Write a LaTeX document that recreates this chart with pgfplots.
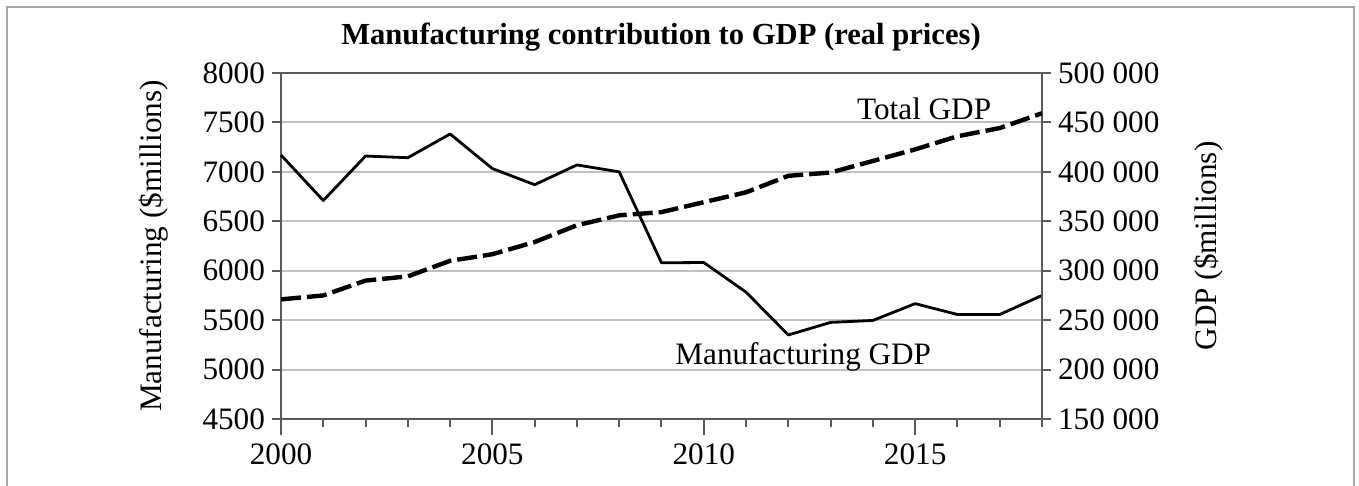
\documentclass[border=0pt]{standalone}
\usepackage{fontspec}
\setmainfont{Liberation Serif}
\usepackage{pgfplots}
\pgfplotsset{compat=1.18}
\definecolor{framegray}{HTML}{A6A6A6}
\definecolor{axisgray}{HTML}{5A5A5A}
\definecolor{gridgray}{HTML}{C0C0C0}
\pgfplotsset{
  common/.style={
    at={(140.5pt,33.5pt)}, anchor=south west,
    scale only axis, width=380.5pt, height=173pt,
    xmin=2000, xmax=2018,
    tick align=outside,
    every tick/.style={axisgray, line width=1pt},
    every minor tick/.style={axisgray, line width=1pt},
    axis line style={axisgray, line width=1pt, -},
    font=\fontsize{15.6}{18}\selectfont,
    /pgf/number format/assume math mode=true,
    scaled ticks=false,
    clip=false,
  }
}
\begin{document}
\begin{tikzpicture}
\useasboundingbox (0,0) rectangle (679.5pt,243pt);
\draw[line width=1pt, framegray] (3.5pt,-10pt) -- (3.5pt,239.5pt) -- (677pt,239.5pt) -- (677pt,-10pt);
\node[anchor=base, font=\fontsize{15.3}{18}\selectfont\bfseries] at (330.5pt,220.5pt) {Manufacturing contribution to GDP (real prices)};
% left axis with box and grid
\begin{axis}[
  common,
  ymin=4500, ymax=8000,
  xtick=\empty,
  ytick={4500,5000,...,8000},
  ytick pos=left,
  major tick length=4.5pt,
  ymajorgrids, grid style={gridgray, line width=1pt},
  /pgf/number format/1000 sep={},
  every axis y label/.style={at={(axis description cs:-0.16689,0.5)}, rotate=90, anchor=center},
  ylabel={Manufacturing (\$millions)},
]
\addplot[black, line width=1.4pt, line join=round] coordinates {
(2000,7170) (2001,6710) (2002,7160) (2003,7143) (2004,7383) (2005,7033)
(2006,6870) (2007,7070) (2008,7000) (2009,6080) (2010,6083) (2011,5783)
(2012,5350) (2013,5477) (2014,5497) (2015,5667) (2016,5557) (2017,5557) (2018,5750)
};
\node[anchor=base west, inner sep=0pt] at (axis cs:2009.32,5050) {Manufacturing GDP};
\node[anchor=base west, inner sep=0pt] at (axis cs:2013.62,7530) {Total GDP};
\end{axis}
% right axis
\begin{axis}[
  common,
  ymin=150000, ymax=500000,
  ytick={150000,200000,...,500000},
  axis x line=none, axis y line*=right,
  major tick length=4.5pt,
  /pgf/number format/fixed,
  /pgf/number format/1000 sep={\ },
  every axis y label/.style={at={(axis description cs:1.21945,0.5)}, rotate=90, anchor=center},
  ylabel={GDP (\$millions)},
]
\addplot[black, line width=2.2pt, dash pattern=on 10pt off 3pt] coordinates {
(2000,271000) (2001,275000) (2002,290000) (2003,294300) (2004,310000) (2005,316700)
(2006,329000) (2007,346000) (2008,356000) (2009,359300) (2010,369300) (2011,379300)
(2012,396000) (2013,399300) (2014,411000) (2015,422700) (2016,436000) (2017,444300) (2018,459300)
};
\end{axis}
% bottom x axis ticks
\begin{axis}[
  common,
  ymin=0, ymax=1,
  axis y line=none, axis x line*=bottom,
  ytick=\empty,
  xtick={2000,2005,2010,2015},
  minor xtick={2000,...,2018},
  major tick length=8pt, minor tick length=4pt,
  /pgf/number format/1000 sep={},
  xticklabel style={yshift=-1pt},
]
\end{axis}
\end{tikzpicture}
\end{document}
